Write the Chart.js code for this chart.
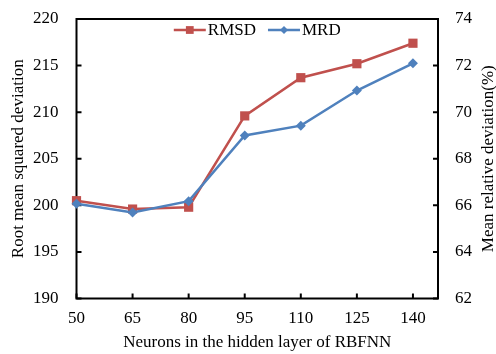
<!DOCTYPE html>
<html>
<head>
<meta charset="utf-8">
<script src="https://cdn.jsdelivr.net/npm/chart.js@4.4.0/dist/chart.umd.min.js"></script>
<style>
  html, body { margin: 0; padding: 0; background: #fff; }
  canvas { display: block; }
</style>
</head>
<body>
<canvas id="chart" width="496" height="354"></canvas>
<script>
const neurons = [50, 65, 80, 95, 110, 125, 140];
const rmsd = [200.5, 199.6, 199.8, 209.6, 213.7, 215.2, 217.4];
const mrd = [66.07, 65.69, 66.18, 69.0, 69.42, 70.93, 72.1];
const leftTicks = [190, 195, 200, 205, 210, 215, 220];
const rightTicks = [62, 64, 66, 68, 70, 72, 74];
const rightTitle = 'Mean relative deviation(%)';

const FONT = '"Liberation Serif", "Times New Roman", serif';
const RED = '#C0504D';
const BLUE = '#4F81BD';

// box round the plot, with the small tick marks pointing inwards
const frame = {
  id: 'frame',
  beforeDatasetsDraw(chart) {
    const { ctx, chartArea: a, scales } = chart;
    ctx.save();
    ctx.strokeStyle = '#000';
    ctx.lineWidth = 2;
    ctx.strokeRect(a.left, a.top, a.right - a.left, a.bottom - a.top);
    ctx.beginPath();
    scales.y.ticks.forEach(t => {
      const y = scales.y.getPixelForValue(t.value);
      ctx.moveTo(a.left, y); ctx.lineTo(a.left + 5, y);
    });
    scales.y1.ticks.forEach(t => {
      const y = scales.y1.getPixelForValue(t.value);
      ctx.moveTo(a.right, y); ctx.lineTo(a.right - 5, y);
    });
    scales.x.ticks.forEach(t => {
      const x = scales.x.getPixelForValue(t.value);
      ctx.moveTo(x, a.bottom); ctx.lineTo(x, a.bottom - 5);
    });
    ctx.stroke();

    // right axis title reads bottom to top, like the left one
    ctx.translate(489, (a.top + a.bottom) / 2);
    ctx.rotate(-Math.PI / 2);
    ctx.font = '17px ' + FONT;
    ctx.fillStyle = '#000';
    ctx.textAlign = 'center';
    ctx.textBaseline = 'middle';
    ctx.fillText(rightTitle, 0, 0);
    ctx.restore();
  }
};

// legend inside the plot, line + marker like the original
const innerLegend = {
  id: 'innerLegend',
  afterDatasetsDraw(chart) {
    const { ctx, chartArea: a } = chart;
    ctx.save();
    ctx.font = '17px ' + FONT;
    ctx.textBaseline = 'middle';
    const lineLen = 32, gap = 2, between = 12;
    const sets = chart.data.datasets;
    const widths = sets.map(d => lineLen + gap + ctx.measureText(d.label).width);
    const total = widths.reduce((s, w) => s + w, 0) + between;
    let x = (a.left + a.right) / 2 - total / 2;
    const y = a.top + 11;
    sets.forEach((d, i) => {
      ctx.strokeStyle = d.borderColor;
      ctx.lineWidth = 2.5;
      ctx.beginPath();
      ctx.moveTo(x, y); ctx.lineTo(x + lineLen, y);
      ctx.stroke();
      ctx.fillStyle = d.backgroundColor;
      Chart.helpers.drawPoint(ctx, {
        pointStyle: d.pointStyle, radius: d.pointRadius - 1, borderWidth: 0
      }, x + lineLen / 2, y);
      ctx.fillStyle = '#000';
      ctx.fillText(d.label, x + lineLen + gap, y + 1);
      x += widths[i] + between;
    });
    ctx.restore();
  }
};

const tickFont = { family: FONT, size: 17 };
const titleFont = { family: FONT, size: 17, lineHeight: 1 };
const noVPad = s => { s.paddingTop = 0; s.paddingBottom = 0; };

new Chart(document.getElementById('chart'), {
  type: 'line',
  data: {
    datasets: [
      {
        label: 'RMSD',
        data: rmsd.map((v, i) => ({ x: neurons[i], y: v })),
        yAxisID: 'y',
        borderColor: RED,
        backgroundColor: RED,
        borderWidth: 2.5,
        pointStyle: 'rect',
        pointRadius: 6.5,
        pointBorderWidth: 0,
        order: 1,
        clip: false
      },
      {
        label: 'MRD',
        data: mrd.map((v, i) => ({ x: neurons[i], y: v })),
        yAxisID: 'y1',
        borderColor: BLUE,
        backgroundColor: BLUE,
        borderWidth: 2.5,
        pointStyle: 'rectRot',
        pointRadius: 5,
        pointBorderWidth: 0,
        order: 0,
        clip: false
      }
    ]
  },
  options: {
    responsive: false,
    animation: false,
    layout: { padding: { top: 19 } },
    plugins: { legend: { display: false }, tooltip: { enabled: false } },
    scales: {
      x: {
        type: 'linear',
        min: 50,
        max: 146.7,
        afterBuildTicks: s => { s.ticks = neurons.map(v => ({ value: v })); },
        afterFit: s => { s.height = 55.5; s.paddingLeft = 0; s.paddingRight = 0; },
        grid: { display: false, drawTicks: false },
        border: { display: false },
        ticks: { font: tickFont, color: '#000', padding: 10, maxRotation: 0 },
        title: {
          display: true, text: 'Neurons in the hidden layer of RBFNN',
          font: titleFont, color: '#000', padding: { top: 0, bottom: 3 }
        }
      },
      y: {
        position: 'left',
        min: 190,
        max: 220,
        afterBuildTicks: s => { s.ticks = leftTicks.map(v => ({ value: v })); },
        afterFit: s => { s.width = 76.5; noVPad(s); },
        grid: { display: false, drawTicks: false },
        border: { display: false },
        ticks: { font: tickFont, color: '#000', padding: 18 },
        title: {
          display: true, text: 'Root mean squared deviation',
          font: titleFont, color: '#000', padding: { top: 10, bottom: 0 }
        }
      },
      y1: {
        position: 'right',
        min: 62,
        max: 74,
        afterBuildTicks: s => { s.ticks = rightTicks.map(v => ({ value: v })); },
        afterFit: s => { s.width = 58; noVPad(s); },
        grid: { display: false, drawTicks: false },
        border: { display: false },
        ticks: { font: tickFont, color: '#000', padding: 17 }
      }
    }
  },
  plugins: [frame, innerLegend]
});
</script>
</body>
</html>
